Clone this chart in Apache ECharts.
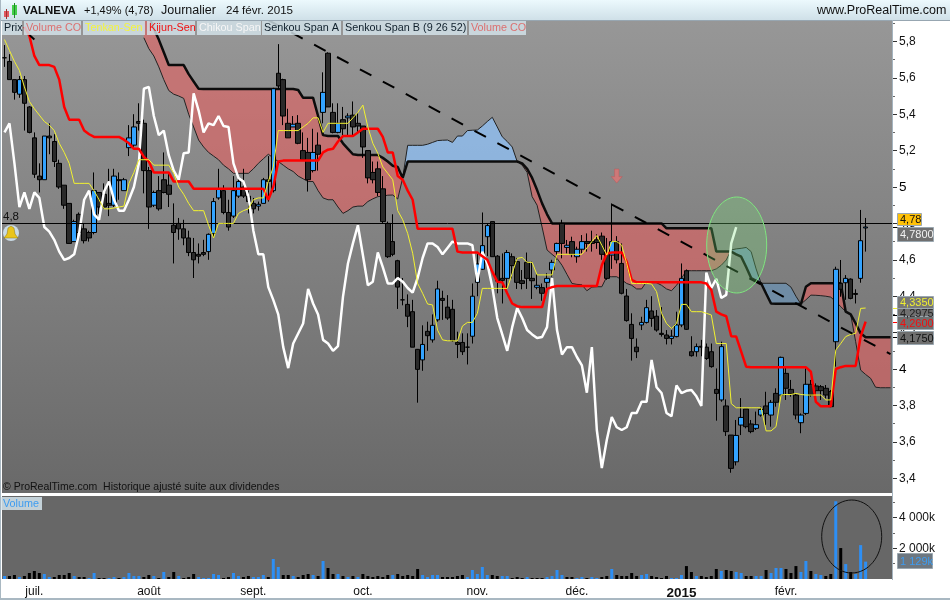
<!DOCTYPE html>
<html>
<head>
<meta charset="utf-8">
<style>html,body{margin:0;padding:0;background:#fff}#chart{width:950px;height:600px}</style>
<script src="https://cdn.jsdelivr.net/npm/echarts@6/dist/echarts.min.js"></script>
</head>
<body>
<div id="chart"></div>
<script>
// daily candles: [open, close, low, high]
var candles = [
[5.71,5.71,5.66,5.78],[5.69,5.59,5.59,5.73],[5.59,5.52,5.48,5.59],[5.51,5.59,5.49,5.61],[5.59,5.46,5.31,5.61],
[5.44,5.30,5.295,5.445],[5.27,5.07,5.05,5.30],[5.06,5.04,4.97,5.13],[5.04,5.28,5.04,5.28],[5.28,5.27,5.18,5.35],
[5.25,5.14,5.11,5.29],[5.13,5.00,4.99,5.15],[5.01,4.90,4.88,5.01],[4.91,4.69,4.69,4.91],[4.70,4.81,4.70,4.82],
[4.85,4.75,4.71,4.86],[4.77,4.705,4.69,4.80],[4.75,4.72,4.70,4.76],[4.75,4.98,4.74,5.08],[4.97,4.89,4.85,4.97],
[4.96,4.89,4.88,5.02],[4.91,4.90,4.84,5.10],[4.90,5.06,4.89,5.10],[5.04,5.035,4.93,5.08],[4.98,5.04,4.98,5.05],
[5.216,5.27,5.17,5.34],[5.23,5.33,5.22,5.40],[5.36,5.35,5.31,5.46],[5.35,5.09,4.965,5.37],[5.09,4.89,4.77,5.11],
[4.90,4.97,4.89,4.98],[4.98,4.88,4.87,5.06],[5.04,4.97,4.965,5.19],[5.01,4.96,4.89,5.08],[4.79,4.75,4.58,4.91],
[4.80,4.77,4.71,4.83],[4.77,4.72,4.68,4.82],[4.72,4.64,4.62,4.76],[4.64,4.60,4.50,4.72],[4.63,4.62,4.58,4.69],
[4.64,4.63,4.62,4.71],[4.645,4.74,4.60,4.745],[4.745,4.92,4.72,4.94],[4.94,4.99,4.93,5.10],[4.98,4.86,4.85,5.01],
[4.86,4.78,4.76,4.93],[4.84,4.98,4.83,5.06],[4.95,5.03,4.94,5.06],[5.00,4.95,4.94,5.10],[4.95,4.92,4.855,4.98],
[4.91,4.88,4.855,4.94],[4.895,4.905,4.87,4.92],[4.91,5.04,4.91,5.05],[5.04,5.03,4.92,5.17],[4.98,5.54,4.97,5.545],
[5.625,5.555,5.54,5.785],[5.59,5.39,5.34,5.595],[5.35,5.27,5.27,5.43],[5.33,5.345,5.33,5.39],[5.35,5.24,5.235,5.395],
[5.20,5.15,5.15,5.30],[5.19,5.04,4.975,5.27],[5.09,5.19,5.08,5.32],[5.23,5.18,5.09,5.30],[5.41,5.52,5.35,5.63],
[5.735,5.44,5.44,5.74],[5.41,5.30,5.295,5.46],[5.30,5.35,5.295,5.46],[5.37,5.32,5.285,5.44],[5.38,5.39,5.285,5.405],
[5.395,5.33,5.275,5.47],[5.35,5.335,5.295,5.405],[5.335,5.22,5.16,5.335],[5.20,5.05,5.02,5.20],[5.08,5.04,5.02,5.14],
[5.10,4.97,4.95,5.14],[4.99,4.81,4.80,5.06],[4.80,4.617,4.61,4.81],[4.70,4.63,4.62,4.85],[4.595,4.45,4.33,4.60],
[4.38,4.38,4.35,4.50],[4.355,4.29,4.23,4.41],[4.315,4.12,4.12,4.38],[4.108,3.998,3.815,4.11],[4.05,4.135,3.99,4.24],
[4.207,4.183,4.10,4.26],[4.16,4.24,4.145,4.30],[4.27,4.44,4.26,4.485],[4.388,4.377,4.27,4.43],[4.34,4.28,4.27,4.406],
[4.328,4.155,4.15,4.38],[4.146,4.135,4.06,4.205],[4.146,4.095,4.077,4.196],[4.12,4.12,4.025,4.196],[4.18,4.40,4.14,4.47],
[4.476,4.577,4.40,4.635],[4.548,4.678,4.544,4.86],[4.727,4.788,4.62,4.80],[4.81,4.617,4.617,4.81],[4.62,4.483,4.416,4.626],
[4.498,4.487,4.36,4.635],[4.498,4.64,4.44,4.654],[4.617,4.568,4.498,4.635],[4.59,4.476,4.44,4.61],[4.485,4.47,4.438,4.544],
[4.586,4.498,4.44,4.64],[4.498,4.485,4.385,4.59],[4.449,4.46,4.438,4.526],[4.447,4.416,4.375,4.47],[4.476,4.498,4.44,4.526],
[4.544,4.586,4.507,4.60],[4.645,4.69,4.60,4.694],[4.80,4.69,4.608,4.82],[4.668,4.68,4.635,4.709],[4.70,4.63,4.614,4.727],
[4.617,4.658,4.584,4.672],[4.658,4.70,4.636,4.736],[4.70,4.69,4.645,4.745],[4.70,4.69,4.645,4.76],[4.71,4.695,4.66,4.74],
[4.73,4.63,4.60,4.75],[4.636,4.498,4.49,4.72],[4.626,4.70,4.55,4.91],[4.70,4.60,4.58,4.73],[4.58,4.416,4.41,4.69],
[4.401,4.266,4.26,4.44],[4.245,4.168,4.046,4.306],[4.12,4.095,4.06,4.168],[4.242,4.256,4.214,4.287],[4.256,4.337,4.25,4.38],
[4.319,4.278,4.232,4.40],[4.29,4.214,4.205,4.324],[4.196,4.19,4.178,4.34],[4.187,4.168,4.135,4.214],[4.168,4.18,4.135,4.214],
[4.178,4.242,4.174,4.315],[4.242,4.498,4.23,4.58],[4.54,4.218,4.215,4.547],[4.095,4.073,4.068,4.18],[4.095,4.123,4.068,4.14],
[4.125,4.12,4.07,4.16],[4.12,4.058,4.05,4.14],[4.095,4.013,4.007,4.14],[3.888,3.866,3.716,4.003],[3.83,4.123,3.82,4.15],
[3.797,3.656,3.632,3.833],[3.637,3.454,3.43,3.637],[3.49,3.635,3.47,3.72],[3.692,3.734,3.637,3.84],[3.78,3.683,3.674,3.78],
[3.698,3.656,3.647,3.72],[3.674,3.694,3.665,3.766],[3.747,3.778,3.738,3.793],[3.797,3.756,3.692,3.875],[3.747,3.817,3.683,3.83],
[3.866,3.817,3.793,3.894],[3.857,4.064,3.848,4.068],[3.976,3.894,3.83,4.013],[3.888,3.863,3.848,3.94],[3.857,3.747,3.723,3.866],
[3.705,3.747,3.647,3.756],[3.756,3.916,3.747,4.003],[3.916,3.857,3.848,3.94],[3.907,3.881,3.848,3.921],[3.903,3.881,3.83,3.912],
[3.894,3.857,3.839,3.912],[3.876,3.793,3.79,3.885],[4.15,4.548,4.013,4.562],[4.471,4.438,4.397,4.599],[4.474,4.498,4.38,4.516],
[4.494,4.388,4.383,4.498],[4.415,4.41,4.36,4.438],[4.498,4.705,4.474,4.874],[4.775,4.78,4.645,4.83]
];

var tenkan = [
5.81,5.75,5.69,5.64,5.55,5.47,5.43,5.395,5.36,5.34,5.31,5.24,5.19,5.13,5.02,5.02,5.02,5.02,4.98,4.93,
4.88,4.88,4.885,4.89,4.895,5.02,5.08,5.15,5.15,5.15,5.12,5.12,5.12,5.12,5.075,5.0,4.96,4.91,4.87,4.87,
4.87,4.79,4.72,4.80,4.80,4.80,4.80,4.855,4.87,4.88,4.93,4.94,4.94,5.03,5.11,5.31,5.31,5.31,5.31,5.31,
5.33,5.35,5.38,5.38,5.30,5.35,5.35,5.35,5.35,5.35,5.38,5.41,5.45,5.33,5.24,5.185,5.11,5.075,5.04,4.87,
4.82,4.745,4.636,4.47,4.416,4.357,4.352,4.214,4.16,4.155,4.155,4.154,4.236,4.256,4.256,4.306,4.443,4.443,4.443,4.443,
4.443,4.443,4.526,4.608,4.613,4.586,4.586,4.517,4.517,4.517,4.517,4.63,4.63,4.63,4.63,4.63,4.63,4.665,4.70,4.733,
4.68,4.626,4.70,4.70,4.68,4.58,4.47,4.47,4.47,4.47,4.467,4.425,4.306,4.25,4.223,4.25,4.355,4.355,4.315,4.315,
4.315,4.306,4.297,4.14,4.14,4.14,3.81,3.787,3.787,3.787,3.787,3.787,3.787,3.66,3.66,3.683,3.857,3.86,3.86,3.866,
3.86,3.857,3.857,3.857,3.857,3.83,3.83,4.104,4.14,4.178,4.19,4.196,4.333,4.335
];

var kijun = [
null,null,null,null,5.88,5.83,5.72,5.67,5.67,5.67,5.66,5.59,5.44,5.37,5.37,5.37,5.31,5.29,5.275,5.275,
5.275,5.275,5.275,5.275,5.26,5.24,5.21,5.21,5.165,5.14,5.08,5.08,5.08,5.08,5.03,5.03,5.03,5.03,4.99,4.99,
4.99,4.99,4.99,4.99,4.99,4.99,4.99,4.99,4.99,4.99,4.99,4.99,4.99,4.93,5.0,5.14,5.145,5.145,5.145,5.145,
5.145,5.145,5.145,5.145,5.19,5.205,5.21,5.25,5.28,5.28,5.28,5.30,5.32,5.32,5.32,5.32,5.275,5.19,5.19,5.06,
5.04,4.98,4.93,4.77,4.77,4.77,4.77,4.77,4.77,4.77,4.77,4.645,4.64,4.64,4.64,4.64,4.62,4.60,4.535,4.48,
4.476,4.416,4.36,4.345,4.34,4.34,4.34,4.34,4.34,4.44,4.45,4.456,4.456,4.456,4.456,4.456,4.456,4.456,4.456,4.456,
4.57,4.635,4.64,4.64,4.64,4.59,4.49,4.476,4.476,4.476,4.476,4.476,4.476,4.476,4.476,4.476,4.476,4.476,4.476,4.476,
4.476,4.47,4.434,4.315,4.30,4.29,4.18,4.178,4.095,4.013,4.01,4.01,4.01,4.01,4.01,4.01,4.01,4.01,4.01,4.01,
4.01,4.01,3.985,3.82,3.795,3.795,3.795,4.0,4.01,4.017,4.017,4.017,4.178,4.26
];

var chikou = [
5.30,5.35,5.13,4.89,4.97,4.88,4.97,4.94,4.78,4.755,4.71,4.645,4.60,4.61,4.63,4.745,4.93,4.98,4.85,4.82,
4.975,5.03,4.93,4.87,4.87,4.93,5.00,5.13,5.54,5.55,5.39,5.285,5.31,5.175,5.09,5.04,5.185,5.19,5.515,5.42,
5.30,5.35,5.34,5.39,5.335,5.33,5.13,5.05,5.03,4.95,4.76,4.63,4.63,4.45,4.38,4.30,4.12,4.005,4.14,4.195,
4.25,4.44,4.36,4.30,4.16,4.14,4.10,4.126,4.396,4.58,4.69,4.79,4.626,4.46,4.48,4.64,4.56,4.47,4.47,4.50,
4.48,4.445,4.42,4.50,4.61,4.69,4.69,4.67,4.63,4.665,4.70,4.69,4.69,4.69,4.68,4.48,4.645,4.58,4.45,4.28,
4.19,4.10,4.23,4.335,4.28,4.214,4.19,4.17,4.176,4.23,4.50,4.214,4.08,4.12,4.12,4.066,4.02,3.87,4.12,3.665,
3.456,3.61,3.736,3.68,3.665,3.68,3.758,3.758,3.82,3.82,4.05,3.90,3.868,3.758,3.74,3.91,3.868,3.88,3.885,3.85,
3.797,4.53,4.445,4.495,4.39,4.407,4.69,4.78
];

var senkouA = [
null,null,null,null,null,null,null,null,null,null,null,null,null,null,null,null,null,null,null,null,
null,null,null,null,null,null,null,null,5.82,5.76,5.72,5.66,5.59,5.53,5.51,5.50,5.487,5.40,5.33,5.258,
5.22,5.19,5.17,5.15,5.12,5.10,5.075,5.075,5.075,5.075,5.10,5.13,5.155,5.18,5.16,5.14,5.12,5.10,5.085,5.06,
5.045,5.03,5.03,4.98,4.94,4.93,4.93,4.89,4.855,4.87,4.89,4.895,4.895,4.92,4.935,4.947,4.95,4.955,4.956,4.934,
5.05,5.229,5.229,5.229,5.229,5.235,5.245,5.255,5.257,5.258,5.245,5.28,5.28,5.31,5.312,5.313,5.335,5.36,5.383,5.33,
5.276,5.25,5.22,5.14,5.12,5.08,4.947,4.90,4.78,4.654,4.63,4.608,4.57,4.52,4.47,4.465,4.463,4.43,4.45,4.452,
4.452,4.507,4.507,4.507,4.49,4.47,4.46,4.44,4.44,4.48,4.48,4.474,4.46,4.44,4.43,4.46,4.498,4.54,4.54,4.54,
4.54,4.54,4.54,4.55,4.57,4.599,4.654,4.66,4.663,4.668,4.645,4.55,4.471,4.471,4.471,4.471,4.471,4.471,4.45,4.40,
4.357,4.38,4.406,4.405,4.403,4.40,4.395,4.37,4.343,4.315,4.30,4.15,3.994,3.97,3.949,3.90,3.897,3.897,3.897
];

var senkouB = [
null,null,null,null,null,null,null,null,null,null,null,null,null,null,null,null,null,null,null,null,
null,null,null,null,null,null,null,null,6.0,5.94,5.87,5.81,5.74,5.67,5.67,5.67,5.67,5.62,5.58,5.54,
5.538,5.538,5.538,5.538,5.538,5.538,5.538,5.538,5.538,5.538,5.538,5.538,5.538,5.538,5.538,5.538,5.538,5.538,5.538,5.533,
5.49,5.49,5.49,5.39,5.285,5.28,5.28,5.28,5.24,5.21,5.18,5.176,5.176,5.176,5.176,5.176,5.16,5.14,5.117,5.11,
5.05,5.14,5.14,5.14,5.14,5.14,5.14,5.14,5.14,5.14,5.14,5.14,5.14,5.14,5.14,5.14,5.14,5.14,5.14,5.14,
5.14,5.14,5.14,5.14,5.13,5.10,5.05,4.983,4.91,4.85,4.80,4.80,4.80,4.80,4.80,4.80,4.80,4.80,4.80,4.80,
4.80,4.80,4.80,4.80,4.80,4.80,4.80,4.80,4.80,4.80,4.80,4.80,4.80,4.773,4.773,4.773,4.773,4.773,4.773,4.773,
4.773,4.773,4.773,4.645,4.645,4.645,4.645,4.63,4.617,4.56,4.50,4.485,4.471,4.415,4.36,4.358,4.358,4.358,4.358,4.358,
4.357,4.452,4.471,4.471,4.471,4.471,4.471,4.471,4.471,4.315,4.30,4.25,4.196,4.175,4.175,4.175,4.175,4.175,4.175
];

// volume in thousands of shares
var volumeK = [
195,195,260,130,195,390,520,390,325,130,130,260,260,390,195,130,130,65,390,65,
65,65,130,65,130,390,195,195,130,260,195,65,455,130,455,195,65,130,325,130,
65,65,325,260,65,130,390,195,130,195,130,130,260,130,1300,780,260,260,195,130,
260,325,260,195,1170,715,325,325,195,130,195,130,325,195,130,195,130,260,260,325,
195,260,195,650,260,130,260,260,130,130,130,195,260,130,585,325,780,260,260,195,
195,195,65,130,65,130,65,65,65,130,195,585,260,130,130,65,130,65,130,65,
130,195,650,260,195,195,390,195,260,325,195,130,65,195,65,65,260,840,455,195,
195,130,195,650,520,585,520,455,390,195,195,195,195,585,390,715,715,650,390,840,
455,1170,520,325,260,195,325,5050,2010,970,455,325,2200,1129
];
// bars drawn blue in the volume panel
var volumeBlue = [0,3,8,9,14,17,18,21,22,24,25,26,27,30,32,35,39,40,41,42,43,46,47,50,51,52,54,55,58,62,64,67,69,71,78,84,85,86,87,93,94,95,
96,97,100,101,105,109,110,111,112,115,116,118,119,122,128,129,134,135,136,139,144,147,148,151,152,154,155,156,160,161,163,164,167,169,171,172,173];

var trendLine = [[53,5.917],[178,4.082]];
var trendStub = [[5,5.835],[6,5.81]];
var alertLevel = 4.8;
var arrowMark = [[123,5.06]];

var tickBars = [6,29,50,72,95,115,136,157];
var tickNames = ['juil.','août','sept.','oct.','nov.','déc.','2015','févr.'];
var priceTicks = [3.4,3.6,3.8,4,4.2,4.4,4.6,4.8,5,5.2,5.4,5.6,5.8];
var priceMinor = [3.5,3.7,3.9,4.1,4.3,4.5,4.7,4.9,5.1,5.3,5.5,5.7,5.9];
var volumeTicks = [2000,4000];
var volumeMinor = [1000,3000,5000];

var categories = [];
for (var n = 0; n < 179; n++) {
  var at = tickBars.indexOf(n);
  categories.push(at >= 0 ? tickNames[at] : '');
}

// stretches of bars where one span stays above the other: [first bar, last bar]
var cloudRuns = [];
(function () {
  var start = null, side = 0;
  for (var i = 0; i < senkouA.length - 1; i++) {
    if (senkouA[i] == null) continue;
    var s = senkouA[i] + senkouA[i + 1] > senkouB[i] + senkouB[i + 1] + 0.0001 ? 1 : -1;
    if (start === null) { start = i; side = s; }
    else if (s !== side) { cloudRuns.push([start, i, side]); start = i; side = s; }
  }
  cloudRuns.push([start, senkouA.length - 1, side]);
})();

var FONT = '"Liberation Sans", Arial, sans-serif';
var myChart = echarts.init(document.getElementById('chart'));

function renderCloud(params, api) {
  var run = cloudRuns[params.dataIndex];
  var pts = [];
  for (var i = run[0]; i <= run[1]; i++) pts.push(api.coord([i, senkouA[i]]));
  for (var j = run[1]; j >= run[0]; j--) pts.push(api.coord([j, senkouB[j]]));
  var fill = run[2] > 0 ? (run[0] > 140 ? 'rgba(104,150,190,0.62)' : 'rgba(144,197,254,0.72)') : 'rgba(228,98,98,0.62)';
  return { type: 'polygon', shape: { points: pts }, style: { fill: fill, stroke: null } };
}

function rect(x, y, w, h, fill, stroke) {
  return { type: 'rect', z: 100, silent: true, shape: { x: x, y: y, width: w, height: h },
    style: { fill: fill, stroke: stroke || null, lineWidth: stroke ? 1 : 0 } };
}
function label(x, y, str, color, size, weight) {
  return { type: 'text', z: 101, silent: true, x: x, y: y,
    style: { text: str, fill: color, font: (weight || 'normal') + ' ' + (size || 12) + 'px ' + FONT, textVerticalAlign: 'middle' } };
}
function chip(x, w, str, color) {
  return [rect(x, 21, w, 14, 'rgba(212,228,236,0.82)'), label(x + 2, 28, str, color, 10.8)];
}
function priceTag(x, y, w, h, str, fill, color) {
  return [rect(x + 0.5, y + 0.5, w, h, fill, '#9aa7b0'), label(x + 3, y + h / 2 + 1, str, color, 11)];
}

var chrome = [
  { type: 'rect', z: 90, silent: true, shape: { x: 0, y: 0, width: 950, height: 20 },
    style: { fill: new echarts.graphic.LinearGradient(0, 0, 0, 1, [{ offset: 0, color: '#ecf9fd' }, { offset: 1, color: '#cfe0e8' }]) } },
  rect(0, 20, 950, 1, '#97a6b1'),
  rect(0, 0, 1, 600, '#a9b8c2'),
  rect(0, 598, 950, 2, '#a9b8c2'),
  rect(2, 494, 891, 1, '#ffffff'),
  rect(892, 20, 1, 560, '#a5b4bf'),
  // header candle icon
  rect(4, 11, 5, 6, '#e0585e'), rect(6, 9, 1, 10, '#a03030'),
  rect(12, 5, 5, 10, '#44d04a'), rect(14, 3, 1, 15, '#208a28'),
  label(23, 11, 'VALNEVA', '#111', 11.4, 'bold'),
  label(84, 11, '+1,49% (4,78)', '#111', 11),
  label(161, 11, 'Journalier', '#111', 12.5),
  label(226, 11, '24 févr. 2015', '#111', 11.6),
  label(817, 11, 'www.ProRealTime.com', '#111', 12.5),
  label(3, 217, '4,8', '#111', 11.5),
  label(3, 487, '© ProRealTime.com  Historique ajusté suite aux dividendes', '#111', 10.5),
  rect(1, 497, 41, 13, 'rgba(212,228,236,0.85)'),
  label(3, 504, 'Volume', '#3d9cf0', 10.8),
  // alert bell
  { type: 'circle', z: 100, silent: true, shape: { cx: 11, cy: 233, r: 8 }, style: { fill: '#c9dbe6' } },
  { type: 'polygon', z: 101, silent: true,
    shape: { points: [[11, 226], [14, 228], [15, 234], [18, 238], [4, 238], [7, 234], [8, 228]] },
    style: { fill: '#e9c51c', stroke: '#8a7413', lineWidth: 0.5 } },
  // hand drawn ellipses
  { type: 'ellipse', z: 95, silent: true, shape: { cx: 736.7, cy: 245, rx: 30, ry: 48 },
    style: { fill: 'rgba(120,225,120,0.28)', stroke: '#7fe67f', lineWidth: 1 } },
  { type: 'ellipse', z: 95, silent: true, shape: { cx: 851.7, cy: 536.5, rx: 30, ry: 36.5 },
    style: { fill: 'none', stroke: '#111', lineWidth: 1 } },
  // short marker dashes beside the price tags
  rect(893, 227, 5, 1, '#000'), rect(893, 308, 5, 1, '#ecec30'), rect(893, 315, 5, 1, '#000'),
  rect(893, 322, 5, 1, '#ff0000'), rect(893, 337, 5, 1, '#000')
];
chrome = chrome.concat(
  chip(2, 20, 'Prix', '#10202c'), chip(24, 57, 'Volume CO', '#dc7070'),
  chip(83, 62, 'Tenkan-Sen', '#f4f43c'), chip(147, 48, 'Kijun-Sen', '#f01010'),
  chip(197, 64, 'Chikou Span', '#f6f6f6'), chip(262, 79, 'Senkou Span A', '#10202c'),
  chip(343, 124, 'Senkou Span B (9 26 52)', '#10202c'), chip(469, 57, 'Volume CO', '#dc7070'),
  priceTag(897, 213, 24, 12, '4,78', '#ffc107', '#111'),
  priceTag(897, 227, 36, 14, '4,7800', '#6f6f6f', '#f2f2f2'),
  priceTag(897, 308, 36, 9, '4,2975', '#707070', '#222'),
  priceTag(897, 296, 36, 12, '4,3350', '#777777', '#efef30'),
  priceTag(897, 316, 36, 13, '4,2600', '#6f6f6f', '#f01010'),
  priceTag(897, 331, 36, 13, '4,1750', '#6f6f6f', '#111'),
  priceTag(897, 553, 35, 15, '1 129k', '#6d7780', '#3d9cf0')
);

var option = {
  animation: false,
  backgroundColor: '#fff',
  textStyle: { fontFamily: FONT },
  grid: [
    { left: 2, top: 20, width: 891, height: 473, show: true, borderWidth: 0,
      backgroundColor: new echarts.graphic.LinearGradient(0, 0, 0, 1, [{ offset: 0, color: '#979797' }, { offset: 1, color: '#696969' }]) },
    { left: 2, top: 496, width: 891, height: 83, show: true, borderWidth: 0, backgroundColor: '#676767' }
  ],
  xAxis: [
    { type: 'category', gridIndex: 0, data: categories, axisLine: { show: false }, axisTick: { show: false }, axisLabel: { show: false } },
    { type: 'category', gridIndex: 1, data: categories,
      axisLine: { lineStyle: { color: '#fff' } },
      axisTick: { length: 4, alignWithLabel: true, lineStyle: { color: '#333' },
        interval: function (i) { return tickBars.indexOf(i) >= 0; } },
      axisLabel: { margin: 7, fontSize: 12, color: '#111', fontFamily: FONT,
        interval: function (i) { return tickBars.indexOf(i) >= 0; },
        formatter: function (v) { return v === '2015' ? '{y|2015}' : v; },
        rich: { y: { fontWeight: 'bold', fontSize: 13.5, color: '#111' } } } }
  ],
  yAxis: [
    { type: 'value', gridIndex: 0, position: 'right', min: 3.3187, max: 5.9176, scale: true,
      axisLine: { show: false }, splitLine: { show: false },
      axisTick: { show: true, length: 4, lineStyle: { color: '#333' }, customValues: priceTicks },
      axisLabel: { margin: 6, fontSize: 12, color: '#111', fontFamily: FONT, customValues: priceTicks, showMinLabel: true, showMaxLabel: true,
        formatter: function (v) {
          return v % 1 === 0 ? '{w|' + v + '}' : String(v).replace('.', ',');
        },
        rich: { w: { fontSize: 13.5, color: '#000' } } } },
    { type: 'value', gridIndex: 0, position: 'right', min: 3.3187, max: 5.9176,
      axisLine: { show: false }, splitLine: { show: false },
      axisTick: { show: true, length: 2, lineStyle: { color: '#666' }, customValues: priceMinor },
      axisLabel: { show: false, customValues: priceMinor } },
    { type: 'value', gridIndex: 1, position: 'right', min: 0, max: 5390,
      axisLine: { show: false }, splitLine: { show: false },
      axisTick: { show: true, length: 4, lineStyle: { color: '#333' }, customValues: volumeTicks },
      axisLabel: { margin: 6, fontSize: 12, color: '#111', fontFamily: FONT, customValues: volumeTicks,
        formatter: function (v) { return (v / 1000) + ' 000k'; } } },
    { type: 'value', gridIndex: 1, position: 'right', min: 0, max: 5390,
      axisLine: { show: false }, splitLine: { show: false },
      axisTick: { show: true, length: 2, lineStyle: { color: '#666' }, customValues: volumeMinor },
      axisLabel: { show: false, customValues: volumeMinor } }
  ],
  series: [
    { type: 'custom', name: 'Cloud', xAxisIndex: 0, yAxisIndex: 0, clip: true, silent: true, z: 1,
      renderItem: renderCloud, encode: { x: 0, y: 1 },
      data: cloudRuns.map(function (r) { return [r[0], senkouA[r[0]]]; }) },
    { type: 'line', name: 'Senkou Span A', data: senkouA, showSymbol: false, z: 2, silent: true,
      lineStyle: { color: '#222', width: 1 } },
    { type: 'line', name: 'Senkou Span B', data: senkouB, showSymbol: false, z: 2, silent: true,
      lineStyle: { color: '#0c0c0c', width: 2.5 } },
    { type: 'candlestick', name: 'Prix', data: candles, barWidth: 5, z: 3,
      itemStyle: { color: '#33a3ff', color0: '#2a2a2a', borderColor: '#000', borderColor0: '#000', borderWidth: 1 },
      markLine: { silent: true, symbol: 'none', label: { show: false }, animation: false,
        lineStyle: { color: '#000', type: 'solid', width: 1 }, data: [{ yAxis: alertLevel }] } },
    { type: 'line', name: 'Chikou Span', data: chikou, showSymbol: false, z: 4, silent: true,
      lineStyle: { color: '#fff', width: 2.5 } },
    { type: 'line', name: 'Kijun-Sen', data: kijun, showSymbol: false, z: 5, silent: true,
      lineStyle: { color: '#ff0000', width: 2.5 } },
    { type: 'line', name: 'Tenkan-Sen', data: tenkan, showSymbol: false, z: 6, silent: true,
      lineStyle: { color: '#f2f230', width: 1 } },
    { type: 'line', name: 'Trend', data: trendLine, showSymbol: false, z: 7, silent: true,
      lineStyle: { color: '#000', width: 2, type: [13, 13] } },
    { type: 'line', name: 'Trend stub', data: trendStub, showSymbol: false, z: 7, silent: true,
      lineStyle: { color: '#000', width: 2 } },
    { type: 'scatter', name: 'Signal', data: arrowMark, z: 7, silent: true,
      symbol: 'path://M3,0 L7,0 L7,7 L10,7 L5,13 L0,7 L3,7 Z', symbolSize: [11, 14], symbolKeepAspect: false,
      itemStyle: { color: '#e07474', borderColor: '#c05050', borderWidth: 0.5 } },
    { type: 'bar', name: 'Volume', xAxisIndex: 1, yAxisIndex: 2, barWidth: 3, silent: true,
      data: volumeK.map(function (v, i) {
        return { value: v, itemStyle: { color: volumeBlue.indexOf(i) >= 0 ? '#2d8ff5' : '#000' } };
      }) }
  ],
  graphic: { elements: chrome }
};
myChart.setOption(option);
</script>
</body>
</html>
